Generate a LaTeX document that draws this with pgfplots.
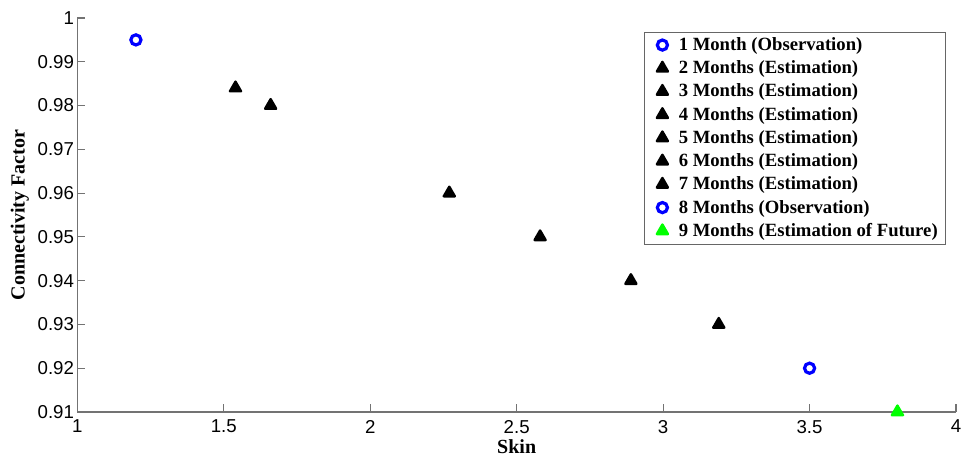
\documentclass[border=0pt]{standalone}
\usepackage{pgfplots}
\pgfplotsset{compat=1.18}
\usepackage{fontspec}
\setmainfont{Liberation Serif}
\newfontfamily\arial{Liberation Sans}
\begin{document}
\begin{tikzpicture}
\begin{axis}[
    scale only axis,
    width=659pt, height=295.5pt,
    xmin=1, xmax=4, ymin=0.91, ymax=1,
    xtick={1,1.5,...,4},
    ytick={0.91,0.92,...,1.001},
    yticklabel style={xshift=1pt, /pgf/number format/.cd, fixed, precision=2},
    xticklabel style={yshift=-2.5pt, /pgf/number format/.cd, fixed, precision=1},
    /pgf/number format/assume math mode=true,
    tick label style={font=\arial\fontsize{14}{16}\selectfont},
    axis lines*=left,
    axis line style={draw=black!55, line width=0.8pt},
    tick style={draw=black!55, line width=0.8pt},
    tick align=inside,
    major tick length=6pt,
    xlabel={\textbf{Skin}},
    ylabel={\textbf{Connectivity Factor}},
    every axis x label/.style={at={(axis description cs:0.5,-0.088)}, anchor=center,
        font=\fontsize{15}{17}\selectfont},
    every axis y label/.style={at={(axis description cs:-0.0653,0.5)}, anchor=center, rotate=90,
        font=\fontsize{15}{17}\selectfont},
    legend cell align=left,
    legend style={at={(0.9886,0.9645)}, anchor=north east,
        draw=black!60, fill=white, font=\bfseries\fontsize{14}{16}\selectfont,
        row sep=2.2pt, inner xsep=4pt, inner ysep=2pt},
    legend image code/.code={\path (0,0) (0.62cm,0);
        \draw[#1] plot coordinates {(0.3cm,0cm)};},
]
\addplot[only marks, mark=o, draw=blue, line width=2.4pt, mark size=3.8pt]
    coordinates {(1.2,0.995)};
\addlegendentry{1 Month (Observation)}
\addplot[only marks, mark=triangle*, black, line join=round, line width=1.8pt, mark size=4.8pt]
    coordinates {(1.54,0.984)};
\addlegendentry{2 Months (Estimation)}
\addplot[only marks, mark=triangle*, black, line join=round, line width=1.8pt, mark size=4.8pt]
    coordinates {(1.66,0.980)};
\addlegendentry{3 Months (Estimation)}
\addplot[only marks, mark=triangle*, black, line join=round, line width=1.8pt, mark size=4.8pt]
    coordinates {(2.27,0.960)};
\addlegendentry{4 Months (Estimation)}
\addplot[only marks, mark=triangle*, black, line join=round, line width=1.8pt, mark size=4.8pt]
    coordinates {(2.58,0.950)};
\addlegendentry{5 Months (Estimation)}
\addplot[only marks, mark=triangle*, black, line join=round, line width=1.8pt, mark size=4.8pt]
    coordinates {(2.89,0.940)};
\addlegendentry{6 Months (Estimation)}
\addplot[only marks, mark=triangle*, black, line join=round, line width=1.8pt, mark size=4.8pt]
    coordinates {(3.19,0.930)};
\addlegendentry{7 Months (Estimation)}
\addplot[only marks, mark=o, draw=blue, line width=2.4pt, mark size=3.8pt]
    coordinates {(3.5,0.920)};
\addlegendentry{8 Months (Observation)}
\addplot[only marks, mark=triangle*, green, line join=round, line width=1.8pt, mark size=4.8pt]
    coordinates {(3.8,0.910)};
\addlegendentry{9 Months (Estimation of Future)}
\end{axis}
% page margins as in the reference
\path (current axis.south west) ++(-58pt,-34pt);
\path (current axis.north east) ++(7.5pt,13.5pt);
\end{tikzpicture}
\end{document}
